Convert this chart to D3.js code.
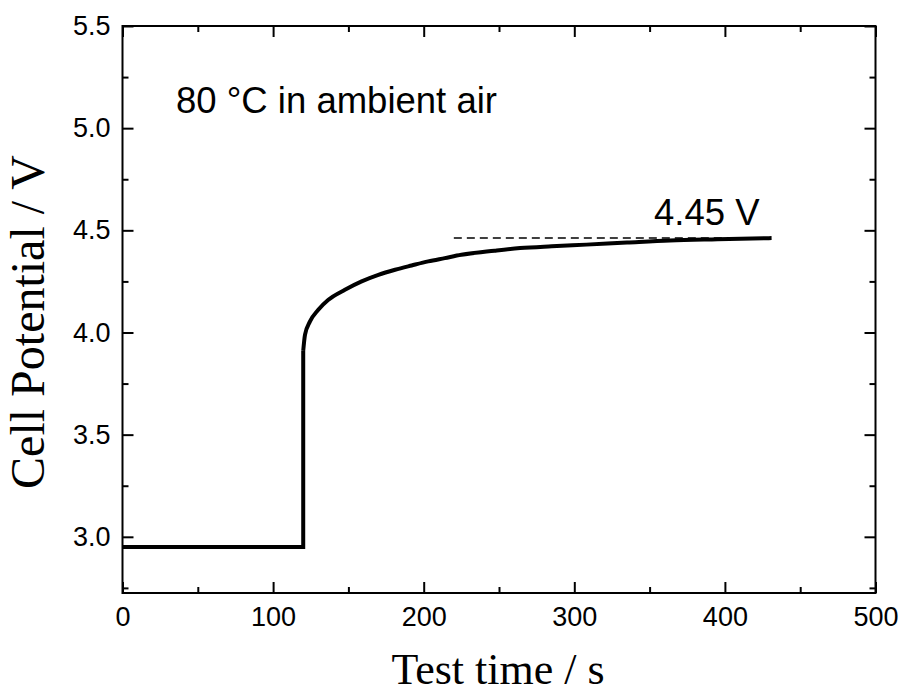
<!DOCTYPE html>
<html>
<head>
<meta charset="utf-8">
<script src="https://cdn.jsdelivr.net/npm/d3@7"></script>
<style>
  html, body { margin: 0; padding: 0; background: #fff; }
  svg { display: block; }
  .tick text { font-family: "Liberation Sans", Arial, sans-serif; }
</style>
</head>
<body>
<svg id="chart" width="901" height="693"></svg>
<script>
// ---- data ----
const stepTime = [0, 120, 120];
const stepVoltage = [2.95, 2.95, 3.91];
const riseTime = [120, 121.2, 124.5, 130, 136.7, 147.7, 158.8, 169.9, 181, 192, 203, 214, 225, 247, 264, 285, 308, 335, 363.5, 395, 431];
const riseVoltage = [3.91, 3.989, 4.054, 4.111, 4.16, 4.209, 4.25, 4.282, 4.307, 4.328, 4.348, 4.364, 4.38, 4.40, 4.413, 4.422, 4.43, 4.44, 4.45, 4.456, 4.462];
const refTime = [220, 430];
const refVoltage = [4.462, 4.462];
const xTicks = [0, 100, 200, 300, 400, 500];
const xMinorTicks = [50, 150, 250, 350, 450];
const yTicks = [3.0, 3.5, 4.0, 4.5, 5.0, 5.5];
const yMinorTicks = [2.75, 3.25, 3.75, 4.25, 4.75, 5.25];
const xTitle = "Test time / s";
const yTitle = "Cell Potential / V";
const noteText = "80 °C in ambient air";
const refLabel = "4.45 V";

// ---- layout ----
const svg = d3.select("#chart");
const L = 122.5, R = 875.5, T = 26, B = 593;
const x = d3.scaleLinear().domain([0, 500]).range([L, R]);
const y = d3.scaleLinear().domain([2.725, 5.5]).range([B, T]);
const MAJ = 11, MIN = 6;
const tickFont = 27;

function styleAxis(g) {
  g.select(".domain").remove();
  g.selectAll(".tick line").attr("stroke", "#000").attr("stroke-width", 2);
  g.selectAll(".tick text").attr("fill", "#000").attr("font-size", tickFont);
}

// bottom
svg.append("g").attr("transform", `translate(0,${B})`)
  .call(d3.axisBottom(x).tickValues(xTicks).tickSize(-MAJ).tickPadding(14).tickFormat(d3.format("d")))
  .call(styleAxis);
svg.append("g").attr("transform", `translate(0,${B})`)
  .call(d3.axisBottom(x).tickValues(xMinorTicks).tickSize(-MIN).tickFormat(""))
  .call(styleAxis);
// top
svg.append("g").attr("transform", `translate(0,${T})`)
  .call(d3.axisTop(x).tickValues(xTicks).tickSize(-MAJ).tickFormat(""))
  .call(styleAxis);
svg.append("g").attr("transform", `translate(0,${T})`)
  .call(d3.axisTop(x).tickValues(xMinorTicks).tickSize(-MIN).tickFormat(""))
  .call(styleAxis);
// left
svg.append("g").attr("transform", `translate(${L},0)`)
  .call(d3.axisLeft(y).tickValues(yTicks).tickSize(-MAJ).tickPadding(12).tickFormat(d3.format(".1f")))
  .call(styleAxis);
svg.append("g").attr("transform", `translate(${L},0)`)
  .call(d3.axisLeft(y).tickValues(yMinorTicks).tickSize(-MIN).tickFormat(""))
  .call(styleAxis);
// right
svg.append("g").attr("transform", `translate(${R},0)`)
  .call(d3.axisRight(y).tickValues(yTicks).tickSize(-MAJ).tickFormat(""))
  .call(styleAxis);
svg.append("g").attr("transform", `translate(${R},0)`)
  .call(d3.axisRight(y).tickValues(yMinorTicks).tickSize(-MIN).tickFormat(""))
  .call(styleAxis);

// frame
svg.append("rect")
  .attr("x", L).attr("y", T).attr("width", R - L).attr("height", B - T)
  .attr("fill", "none").attr("stroke", "#000").attr("stroke-width", 2);

// dashed reference line
svg.append("path")
  .datum(refTime.map((t, i) => [t, refVoltage[i]]))
  .attr("d", d3.line().x(d => x(d[0])).y(d => y(d[1])))
  .attr("fill", "none").attr("stroke", "#000").attr("stroke-width", 1.5)
  .attr("stroke-dasharray", "8,5");

// data curve
svg.append("path")
  .datum(stepTime.map((t, i) => [t, stepVoltage[i]]))
  .attr("d", d3.line().x(d => x(d[0])).y(d => y(d[1])))
  .attr("fill", "none").attr("stroke", "#000").attr("stroke-width", 4)
  .attr("stroke-linejoin", "miter");
svg.append("path")
  .datum(riseTime.map((t, i) => [t, riseVoltage[i]]))
  .attr("d", d3.line().x(d => x(d[0])).y(d => y(d[1])).curve(d3.curveMonotoneX))
  .attr("fill", "none").attr("stroke", "#000").attr("stroke-width", 4)
  .attr("stroke-linejoin", "round");

// annotations
svg.append("text")
  .attr("x", 176).attr("y", 113)
  .attr("font-family", "'Liberation Sans', Arial, sans-serif")
  .attr("font-size", 36.5).attr("fill", "#000")
  .text(noteText);
svg.append("text")
  .attr("x", 654).attr("y", 225)
  .attr("font-family", "'Liberation Sans', Arial, sans-serif")
  .attr("font-size", 36.5).attr("fill", "#000")
  .text(refLabel);

// axis titles
svg.append("text")
  .attr("x", 498).attr("y", 684)
  .attr("text-anchor", "middle")
  .attr("font-family", "'Liberation Serif', 'Times New Roman', serif")
  .attr("font-size", 44).attr("fill", "#000")
  .text(xTitle);
svg.append("text")
  .attr("transform", "translate(44,322) rotate(-90)")
  .attr("text-anchor", "middle")
  .attr("font-family", "'Liberation Serif', 'Times New Roman', serif")
  .attr("font-size", 48).attr("fill", "#000")
  .text(yTitle);
</script>
</body>
</html>
